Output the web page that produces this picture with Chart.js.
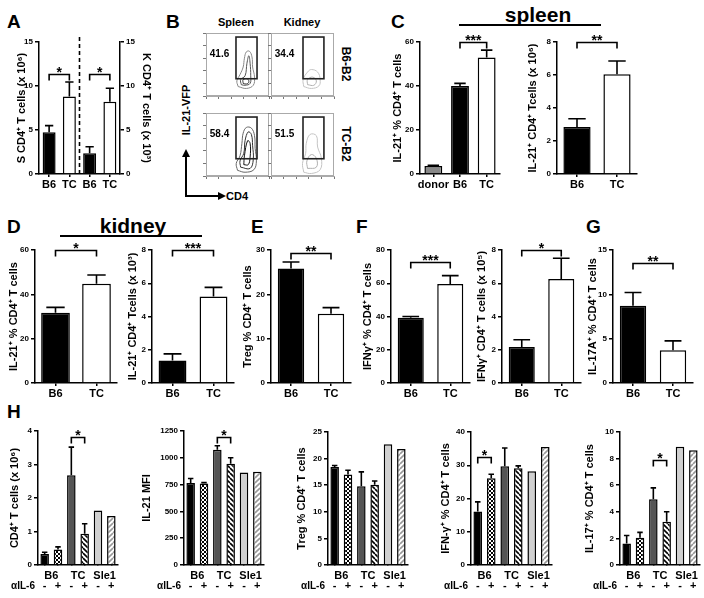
<!DOCTYPE html>
<html>
<head>
<meta charset="utf-8">
<script src="https://cdn.jsdelivr.net/npm/chart.js@4.4.1/dist/chart.umd.min.js"></script>
<style>
body { margin: 0; background: #fff; }
#fig { position: relative; width: 704px; height: 598px; overflow: hidden; background: #fff;
       font-family: 'Liberation Sans', Arial, sans-serif; font-weight: bold; color: #000; }
#fig canvas { position: absolute; }
.t { position: absolute; white-space: nowrap; line-height: 1; }
.letter { font-size: 19px; }
.organ { font-size: 21px; }
.rule { position: absolute; height: 2px; background: #000; }
.rot { position: absolute; white-space: nowrap; line-height: 1; transform: translate(-50%, -50%) rotate(90deg); }
.rotl { position: absolute; white-space: nowrap; line-height: 1; transform: translate(-50%, -50%) rotate(-90deg); }
</style>
</head>
<body>
<div id="fig">
  <div class="t letter" style="left:7px;top:12px">A</div>
  <div class="t letter" style="left:166px;top:12px">B</div>
  <div class="t letter" style="left:391px;top:12px">C</div>
  <div class="t letter" style="left:7px;top:217px">D</div>
  <div class="t letter" style="left:251px;top:217px">E</div>
  <div class="t letter" style="left:356px;top:217px">F</div>
  <div class="t letter" style="left:586px;top:217px">G</div>
  <div class="t letter" style="left:7px;top:402px">H</div>

  <div class="t organ" style="left:538px;top:4px;transform:translateX(-50%)">spleen</div>
  <div class="rule" style="left:459px;top:24px;width:142px"></div>
  <div class="t organ" style="left:133px;top:215px;transform:translateX(-50%)">kidney</div>
  <div class="rule" style="left:60px;top:235px;width:142px"></div>

  <div class="t" style="left:236px;top:17px;font-size:11px;transform:translateX(-50%)">Spleen</div>
  <div class="t" style="left:302px;top:17px;font-size:11px;transform:translateX(-50%)">Kidney</div>
  <div class="rot" style="left:346px;top:64px;font-size:12px">B6-B2</div>
  <div class="rot" style="left:346px;top:144px;font-size:12px">TC-B2</div>
  <div class="rotl" style="left:186px;top:110px;font-size:11px">IL-21-VFP</div>
  <div class="t" style="left:226px;top:191px;font-size:11px">CD4</div>
  <svg style="position:absolute;left:180px;top:145px" width="50" height="56">
    <path d="M6 51 V10 M5 51 H40" stroke="#000" stroke-width="2" fill="none"/>
    <path d="M6 4 L2 12 L10 12 Z M46 51 L38 47 L38 55 Z" fill="#000"/>
  </svg>
</div>

<script>
// ---- data ----
// A: total CD4 T cells, spleen (x10^6) and kidney (x10^3)
const aCats = ['B6', 'TC', 'B6', 'TC'];
const aSpleen = [4.75, 8.8];
const aSpleenErr = [0.75, 1.65];
const aKidney = [2.35, 8.2];
const aKidneyErr = [0.75, 1.55];

// B: IL-21-VFP gates
const bPct = [41.6, 34.4, 58.4, 51.5];
const bGateSpleen = [2.38, 4.05, 1.37, 4.68];
const bGateKidney = [2.54, 4.2, 1.37, 4.68];
const bSpleenB6 = [
  [[2.55,0.75],[2.45,1.2],[2.7,1.7],[2.95,2.3],[3.05,3.0],[3.2,3.5],[3.45,3.55],[3.65,3.1],[3.7,2.3],[3.85,1.5],[3.75,0.85],[3.2,0.6],[2.55,0.75]],
  [[2.8,0.9],[2.75,1.3],[3.1,1.6],[3.25,2.6],[3.4,3.2],[3.5,2.6],[3.55,1.6],[3.5,1.0],[3.1,0.85],[2.8,0.9]],
  [[2.95,1.0],[2.95,1.3],[3.3,1.35],[3.4,1.1],[3.2,0.95],[2.95,1.0]]
];
const bKidneyB6 = [
  [[2.6,0.75],[2.55,1.3],[2.9,1.9],[3.2,2.1],[3.7,1.9],[3.9,1.3],[3.8,0.8],[3.2,0.6],[2.6,0.75]],
  [[2.9,0.9],[2.9,1.3],[3.3,1.5],[3.6,1.2],[3.4,0.85],[2.9,0.9]]
];
const bSpleenTC = [
  [[2.5,0.45],[2.4,1.0],[2.7,1.6],[2.85,2.6],[2.95,3.4],[3.2,3.85],[3.6,3.8],[3.85,3.2],[3.9,2.2],[4.0,1.2],[3.8,0.5],[3.1,0.3],[2.5,0.45]],
  [[2.75,0.7],[2.7,1.2],[3.0,1.8],[3.1,2.8],[3.35,3.5],[3.6,3.3],[3.7,2.4],[3.75,1.3],[3.5,0.6],[2.75,0.7]],
  [[3.0,0.9],[3.05,1.6],[3.3,2.8],[3.5,2.6],[3.5,1.5],[3.35,0.9],[3.0,0.9]]
];
const bKidneyTC = [
  [[2.6,0.3],[2.5,1.0],[2.75,1.8],[2.8,2.6],[3.1,3.3],[3.6,3.2],[3.7,2.3],[4.0,1.4],[3.9,0.5],[3.2,0.2],[2.6,0.3]],
  [[2.9,0.6],[2.85,1.2],[3.2,1.7],[3.6,1.4],[3.6,0.7],[2.9,0.6]]
];

// C: spleen IL-21+
const cPctCats = ['donor', 'B6', 'TC'];
const cPct = [3.6, 40, 53];
const cPctErr = [0.4, 1.2, 3.3];
const cNumCats = ['B6', 'TC'];
const cNum = [2.85, 6.05];
const cNumErr = [0.5, 0.8];

// D: kidney IL-21+
const strainCats = ['B6', 'TC'];
const dPct = [31.7, 44.8];
const dPctErr = [2.4, 3.9];
const dNum = [1.35, 5.2];
const dNumErr = [0.4, 0.55];

// E: Treg
const eTreg = [25.8, 15.6];
const eTregErr = [1.5, 1.4];

// F: IFNg
const fPct = [39.2, 59.6];
const fPctErr = [0.8, 5.0];
const fNum = [2.16, 6.26];
const fNumErr = [0.44, 1.24];

// G: IL-17A
const gPct = [8.7, 3.7];
const gPctErr = [1.5, 1.05];

// H: anti-IL-6
const hGroups = ['B6', 'TC', 'Sle1'];
const hSigns = ['-', '+', '-', '+', '-', '+'];
const hCd4 = [0.33, 0.46, 2.68, 0.93, 1.63, 1.46];
const hCd4Err = [0.05, 0.08, 0.84, 0.3, null, null];
const hMfi = [765, 760, 1075, 945, 862, 870];
const hMfiErr = [42, 8, 38, 55, null, null];
const hTreg = [18.4, 17.0, 14.8, 15.1, 22.7, 21.8];
const hTregErr = [0.3, 0.8, 2.7, 0.7, null, null];
const hIfn = [16.1, 26.1, 29.7, 29.1, 28.2, 35.5];
const hIfnErr = [2.9, 1.2, 5.5, 0.7, null, null];
const hIl17 = [1.62, 2.05, 4.95, 3.25, 8.9, 8.62];
const hIl17Err = [0.6, 0.4, 0.85, 0.75, null, null];

// ---- setup ----
const FONT = "'Liberation Sans', Arial, sans-serif";
Chart.defaults.font.family = FONT;
Chart.defaults.font.weight = 'bold';
Chart.defaults.color = '#000';
Chart.defaults.animation = false;
Chart.defaults.responsive = false;
Chart.defaults.devicePixelRatio = 1;
Chart.defaults.plugins.legend.display = false;
Chart.defaults.plugins.tooltip.enabled = false;

const fig = document.getElementById('fig');

function addCanvas(left, top, w, h) {
  const c = document.createElement('canvas');
  c.width = w;
  c.height = h;
  c.style.left = left + 'px';
  c.style.top = top + 'px';
  fig.appendChild(c);
  return c;
}

function makePattern(draw, size) {
  const p = document.createElement('canvas');
  p.width = p.height = size;
  const g = p.getContext('2d');
  g.fillStyle = '#fff';
  g.fillRect(0, 0, size, size);
  draw(g, size);
  return g.createPattern(p, 'repeat');
}
const checker = makePattern(g => {
  g.fillStyle = '#000';
  g.fillRect(0, 0, 2, 2);
  g.fillRect(2, 2, 2, 2);
}, 4);
function hatch(color, dir) {
  return makePattern((g, s) => {
    g.strokeStyle = color;
    g.lineWidth = 1.6;
    g.beginPath();
    for (let k = -1; k <= 1; k++) {
      if (dir > 0) { g.moveTo(k * s, s); g.lineTo(k * s + s, 0); }
      else { g.moveTo(k * s, 0); g.lineTo(k * s + s, s); }
    }
    g.stroke();
  }, 5);
}
const hatchDark = hatch('#000', -1);
const hatchLight = hatch('#999', 1);

const bw = ['#000', '#fff'];
const hColors = ['#000', checker, '#555', hatchDark, '#d0d0d0', hatchLight];

// error bars, brackets, extra labels
function marks(g) {
  return {
    id: 'marks',
    afterDatasetsDraw(chart) {
      const ctx = chart.ctx;
      const area = chart.chartArea;
      const xs = chart.scales.x;
      ctx.save();
      ctx.strokeStyle = '#000';
      ctx.fillStyle = '#000';
      ctx.lineWidth = 1.6;
      chart.data.datasets.forEach((ds, di) => {
        const ys = chart.scales[ds.yAxisID];
        chart.getDatasetMeta(di).data.forEach((bar, i) => {
          const v = ds.data[i];
          const e = ds.errors ? ds.errors[i] : null;
          if (v == null || !e) return;
          const yTop = ys.getPixelForValue(v + e);
          const half = bar.width * 0.32;
          ctx.beginPath();
          ctx.moveTo(bar.x, bar.y);
          ctx.lineTo(bar.x, yTop);
          ctx.moveTo(bar.x - half, yTop);
          ctx.lineTo(bar.x + half, yTop);
          ctx.stroke();
        });
      });

      (g.sig || []).forEach(([a, b, v, txt, axis]) => {
        const ys = chart.scales[axis || 'y'];
        const x1 = xs.getPixelForValue(a);
        const x2 = xs.getPixelForValue(b);
        const y = Math.round(ys.getPixelForValue(v)) + 0.5;
        ctx.beginPath();
        ctx.moveTo(x1, y + 6);
        ctx.lineTo(x1, y);
        ctx.lineTo(x2, y);
        ctx.lineTo(x2, y + 6);
        ctx.stroke();
        ctx.font = 'bold 14px ' + FONT;
        ctx.textAlign = 'center';
        ctx.textBaseline = 'alphabetic';
        ctx.fillText(txt, (x1 + x2) / 2, y + 2);
      });

      if (g.divider) {
        const xm = (xs.getPixelForValue(1) + xs.getPixelForValue(2)) / 2;
        ctx.setLineDash([4, 3]);
        ctx.beginPath();
        ctx.moveTo(xm, area.top - 5);
        ctx.lineTo(xm, area.bottom);
        ctx.stroke();
        ctx.setLineDash([]);
      }

      if (g.groups) {
        ctx.textAlign = 'center';
        ctx.textBaseline = 'alphabetic';
        ctx.font = 'bold 11px ' + FONT;
        g.groups.forEach((name, k) => {
          const xc = (xs.getPixelForValue(2 * k) + xs.getPixelForValue(2 * k + 1)) / 2;
          ctx.fillText(name, xc, area.bottom + 14);
        });
        g.signs.forEach((s, i) => ctx.fillText(s, xs.getPixelForValue(i), area.bottom + 24));
        ctx.textAlign = 'right';
        ctx.font = 'bold 10px ' + FONT;
        ctx.fillText('\u03b1IL-6', area.left - 3, area.bottom + 24);
      }
      ctx.restore();
    }
  };
}

function yAxis(max, step, title, pos, width) {
  return {
    type: 'linear', position: pos, min: 0, max: max,
    border: { color: '#000', width: 1.5 },
    grid: { drawOnChartArea: false, color: '#000', lineWidth: 1.5, tickLength: 4 },
    ticks: { stepSize: step, font: { size: 8, weight: 'bold' }, padding: 2, callback: v => String(v) },
    title: { display: true, text: title, font: { size: 11, weight: 'bold' }, padding: 0 },
    afterFit: s => { s.width = width; }
  };
}

function barChart(g) {
  const padTop = 28;
  const padR = 6;
  const xH = g.groups ? 30 : 20;
  const left = Math.round(g.titleX - 7);
  const right = g.y1 ? Math.round(g.y1.titleX + 7) : g.axisR + padR;
  const top = g.top - padTop;
  const canvas = addCanvas(left, top, right - left, g.bottom + xH - top);
  const scales = {
    x: {
      offset: true,
      border: { color: '#000', width: 1.5 },
      grid: { drawOnChartArea: false, offset: false, color: '#000', lineWidth: 1.5, tickLength: g.groups ? 0 : 3 },
      ticks: { display: !g.groups, font: { size: 11, weight: 'bold' }, padding: 1, autoSkip: false, maxRotation: 0, minRotation: 0 },
      afterFit: s => { s.height = xH; }
    },
    y: yAxis(g.max, g.step, g.title, 'left', g.axisL - left)
  };
  if (g.y1) scales.y1 = yAxis(g.y1.max, g.y1.step, g.y1.title, 'right', right - g.axisR);
  const datasets = g.series.map(s => ({
    data: s.data,
    errors: s.err,
    yAxisID: s.axis || 'y',
    backgroundColor: s.colors,
    borderColor: '#000',
    borderWidth: 1.5,
    barPercentage: g.bp,
    categoryPercentage: 1,
    grouped: false
  }));
  new Chart(canvas, {
    type: 'bar',
    data: { labels: g.labels, datasets },
    options: {
      layout: { padding: { top: padTop, right: g.y1 ? 0 : padR, left: 0, bottom: 0 } },
      scales
    },
    plugins: [marks(g)]
  });
}

function flowPlot(x0, y0, gate, pct, rings, shade) {
  const w = 63, h = 63, yW = 10, xH = 8, pad = 3;
  const canvas = addCanvas(x0 - yW, y0 - pad, w + yW + pad, h + pad + xH);
  const axis = (size) => ({
    type: 'linear', min: 0, max: 5,
    border: { color: '#aaa', width: 1 },
    grid: { drawOnChartArea: false, color: '#777', tickLength: 3 },
    ticks: { display: false, stepSize: 1 },
    afterFit: s => { if (s.isHorizontal()) s.height = size; else s.width = size; }
  });
  const datasets = rings.map((r, k) => ({
    type: 'line',
    data: r.map(([x, y]) => ({ x, y })),
    showLine: true,
    pointRadius: 0,
    borderWidth: 1,
    borderColor: shade[k],
    tension: 0.4,
    fill: false
  }));
  new Chart(canvas, {
    type: 'scatter',
    data: { datasets },
    options: {
      layout: { padding: { top: pad, right: pad, left: 0, bottom: 0 } },
      scales: { x: axis(xH), y: axis(yW) }
    },
    plugins: [{
      id: 'gate',
      afterDraw(chart) {
        const { ctx, chartArea: a, scales: { x, y } } = chart;
        ctx.save();
        ctx.strokeStyle = '#aaa';
        ctx.lineWidth = 1;
        ctx.strokeRect(a.left + 0.5, a.top + 0.5, a.width - 1, a.height - 1);
        ctx.strokeStyle = '#222';
        ctx.lineWidth = 1.6;
        const gx = x.getPixelForValue(gate[0]);
        const gy = y.getPixelForValue(gate[3]);
        ctx.strokeRect(gx, gy, x.getPixelForValue(gate[1]) - gx, y.getPixelForValue(gate[2]) - gy);
        ctx.fillStyle = '#000';
        ctx.font = 'bold 10px ' + FONT;
        ctx.textBaseline = 'middle';
        ctx.fillText(pct.toFixed(1), x.getPixelForValue(0.3), y.getPixelForValue(3.35));
        ctx.restore();
      }
    }]
  });
}

// ---- A ----
barChart({
  axisL: 39, axisR: 120, top: 42, bottom: 174, titleX: 22, bp: 0.64,
  labels: aCats, max: 15, step: 5, title: 'S CD4\u207a T cells (x 10\u2076)',
  y1: { max: 15, step: 5, title: 'K CD4\u207a T cells (x 10\u00b3)', titleX: 146 },
  series: [
    { data: aSpleen.concat([null, null]), err: aSpleenErr.concat([null, null]), colors: bw.concat(bw) },
    { data: [null, null].concat(aKidney), err: [null, null].concat(aKidneyErr), colors: bw.concat(bw), axis: 'y1' }
  ],
  sig: [[0, 1, 11.4, '*', 'y'], [2, 3, 11.4, '*', 'y1']],
  divider: true
});

// ---- B ----
const darkRings = ['#888', '#555', '#333'];
const lightRings = ['#c4c4c4', '#b0b0b0'];
flowPlot(206, 33, bGateSpleen, bPct[0], bSpleenB6, darkRings);
flowPlot(271, 33, bGateKidney, bPct[1], bKidneyB6, lightRings);
flowPlot(206, 113, bGateSpleen, bPct[2], bSpleenTC, ['#666', '#333', '#111']);
flowPlot(271, 113, bGateKidney, bPct[3], bKidneyTC, lightRings);

// ---- C ----
barChart({
  axisL: 420, axisR: 500, top: 42, bottom: 174, titleX: 398, bp: 0.67,
  labels: cPctCats, max: 60, step: 20, title: 'IL-21\u207a % CD4\u207a T cells',
  series: [{ data: cPct, err: cPctErr, colors: ['#888', '#000', '#fff'] }],
  sig: [[1, 2, 60, '***']]
});
barChart({
  axisL: 557, axisR: 637, top: 42, bottom: 174, titleX: 533, bp: 0.68,
  labels: cNumCats, max: 8, step: 2, title: 'IL-21\u207a CD4\u207a Tcells (x 10\u2076)',
  series: [{ data: cNum, err: cNumErr, colors: bw }],
  sig: [[0, 1, 8, '**']]
});

// ---- D ----
barChart({
  axisL: 35, axisR: 117, top: 250, bottom: 383, titleX: 14, bp: 0.7,
  labels: strainCats, max: 60, step: 20, title: 'IL-21\u207a % CD4\u207a T cells',
  series: [{ data: dPct, err: dPctErr, colors: bw }],
  sig: [[0, 1, 60, '*']]
});
barChart({
  axisL: 152, axisR: 234, top: 250, bottom: 383, titleX: 133, bp: 0.68,
  labels: strainCats, max: 8, step: 2, title: 'IL-21\u207a CD4\u207a Tcells (x 10\u00b3)',
  series: [{ data: dNum, err: dNumErr, colors: bw }],
  sig: [[0, 1, 8, '***']]
});

// ---- E ----
barChart({
  axisL: 271, axisR: 351, top: 250, bottom: 383, titleX: 248, bp: 0.66,
  labels: strainCats, max: 30, step: 10, title: 'Treg % CD4\u207a T cells',
  series: [{ data: eTreg, err: eTregErr, colors: bw }],
  sig: [[0, 1, 29.3, '**']]
});

// ---- F ----
barChart({
  axisL: 391, axisR: 470, top: 250, bottom: 383, titleX: 368, bp: 0.66,
  labels: strainCats, max: 80, step: 20, title: 'IFN\u03b3\u207a % CD4\u207a T cells',
  series: [{ data: fPct, err: fPctErr, colors: bw }],
  sig: [[0, 1, 72.8, '***']]
});
barChart({
  axisL: 502, axisR: 581, top: 250, bottom: 383, titleX: 482, bp: 0.66,
  labels: strainCats, max: 8, step: 2, title: 'IFN\u03b3\u207a CD4\u207a T cells (x 10\u2075)',
  series: [{ data: fNum, err: fNumErr, colors: bw }],
  sig: [[0, 1, 8, '*']]
});

// ---- G ----
barChart({
  axisL: 613, axisR: 693, top: 250, bottom: 383, titleX: 593, bp: 0.66,
  labels: strainCats, max: 15, step: 5, title: 'IL-17A\u207a % CD4\u207a T cells',
  series: [{ data: gPct, err: gPctErr, colors: bw }],
  sig: [[0, 1, 13.5, '**']]
});

// ---- H ----
const hLabels = hSigns.map((s, i) => hGroups[i >> 1] + s);
barChart({
  axisL: 38, axisR: 118, top: 431, bottom: 565, titleX: 15, bp: 0.64,
  labels: hLabels, groups: hGroups, signs: hSigns, max: 4, step: 1, title: 'CD4\u207a T cells (x 10\u2076)',
  series: [{ data: hCd4, err: hCd4Err, colors: hColors }],
  sig: [[2, 3, 3.83, '*']]
});
barChart({
  axisL: 184, axisR: 264, top: 431, bottom: 565, titleX: 147, bp: 0.64,
  labels: hLabels, groups: hGroups, signs: hSigns, max: 1250, step: 250, title: 'IL-21 MFI',
  series: [{ data: hMfi, err: hMfiErr, colors: hColors }],
  sig: [[2, 3, 1192, '*']]
});
barChart({
  axisL: 328, axisR: 408, top: 432, bottom: 565, titleX: 302, bp: 0.64,
  labels: hLabels, groups: hGroups, signs: hSigns, max: 25, step: 5, title: 'Treg % CD4\u207a T cells',
  series: [{ data: hTreg, err: hTregErr, colors: hColors }]
});
barChart({
  axisL: 471, axisR: 552, top: 432, bottom: 565, titleX: 446, bp: 0.64,
  labels: hLabels, groups: hGroups, signs: hSigns, max: 40, step: 10, title: 'IFN-\u03b3\u207a % CD4\u207a T cells',
  series: [{ data: hIfn, err: hIfnErr, colors: hColors }],
  sig: [[0, 1, 32.6, '*']]
});
barChart({
  axisL: 620, axisR: 700, top: 432, bottom: 565, titleX: 590, bp: 0.64,
  labels: hLabels, groups: hGroups, signs: hSigns, max: 10, step: 2, title: 'IL-17\u207a % CD4\u207a T cells',
  series: [{ data: hIl17, err: hIl17Err, colors: hColors }],
  sig: [[2, 3, 7.9, '*']]
});
</script>
</body>
</html>
